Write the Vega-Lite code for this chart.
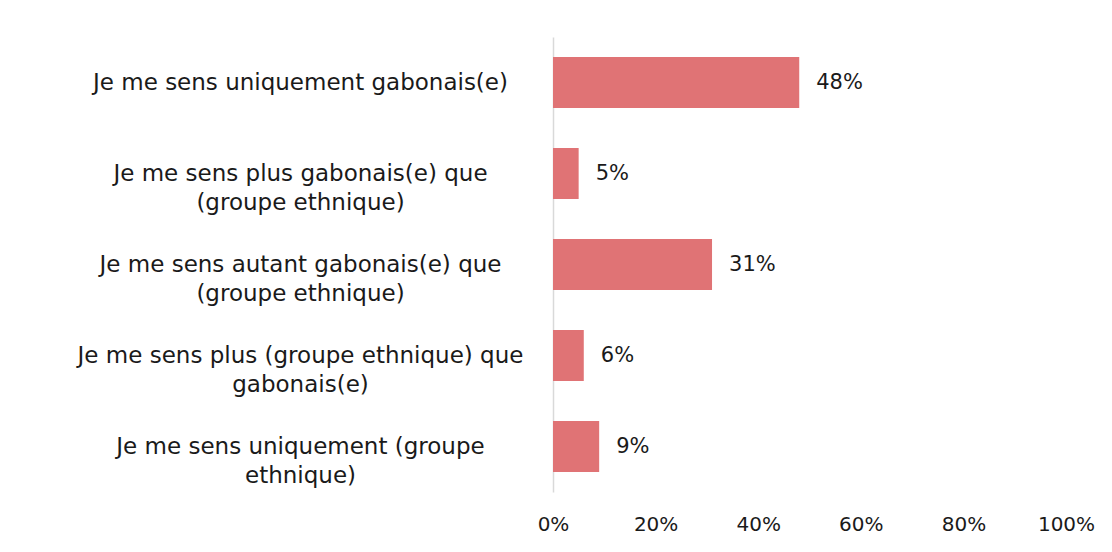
{
  "$schema": "https://vega.github.io/schema/vega-lite/v6.json",
  "width": 513,
  "height": 455,
  "autosize": {"type": "none"},
  "padding": {"left": 553, "top": 37, "right": 46, "bottom": 60},
  "background": "white",
  "config": {
    "view": {"stroke": null},
    "font": "DejaVu Sans"
  },
  "data": {
    "values": [
      {"categorie": "Je me sens uniquement gabonais(e)", "valeur": 0.48},
      {"categorie": "Je me sens plus gabonais(e) que|(groupe ethnique)", "valeur": 0.05},
      {"categorie": "Je me sens autant gabonais(e) que|(groupe ethnique)", "valeur": 0.31},
      {"categorie": "Je me sens plus (groupe ethnique) que|gabonais(e)", "valeur": 0.06},
      {"categorie": "Je me sens uniquement (groupe|ethnique)", "valeur": 0.09}
    ]
  },
  "encoding": {
    "y": {
      "field": "categorie",
      "type": "nominal",
      "sort": null,
      "scale": {"paddingInner": 0.44, "paddingOuter": 0.22},
      "axis": {
        "title": null,
        "ticks": false,
        "domainColor": "#d9d9d9",
        "domainWidth": 1.5,
        "labelAlign": "center",
        "labelBaseline": "middle",
        "labelPadding": 253,
        "labelLimit": 0,
        "labelFontSize": 23,
        "labelColor": "#1a1a1a",
        "labelLineHeight": 29,
        "labelExpr": "split(datum.label, '|')"
      }
    },
    "x": {
      "field": "valeur",
      "type": "quantitative",
      "scale": {"domain": [0, 1], "nice": false},
      "axis": {
        "title": null,
        "format": ".0%",
        "values": [0, 0.2, 0.4, 0.6, 0.8, 1],
        "grid": false,
        "domain": false,
        "ticks": false,
        "labelPadding": 22,
        "labelFontSize": 20,
        "labelColor": "#1a1a1a",
        "labelFlush": false
      }
    }
  },
  "layer": [
    {"mark": {"type": "bar", "color": "#E07375"}},
    {
      "mark": {"type": "text", "align": "left", "dx": 17, "fontSize": 21, "color": "#1a1a1a"},
      "encoding": {"text": {"field": "valeur", "type": "quantitative", "format": ".0%"}}
    }
  ]
}
